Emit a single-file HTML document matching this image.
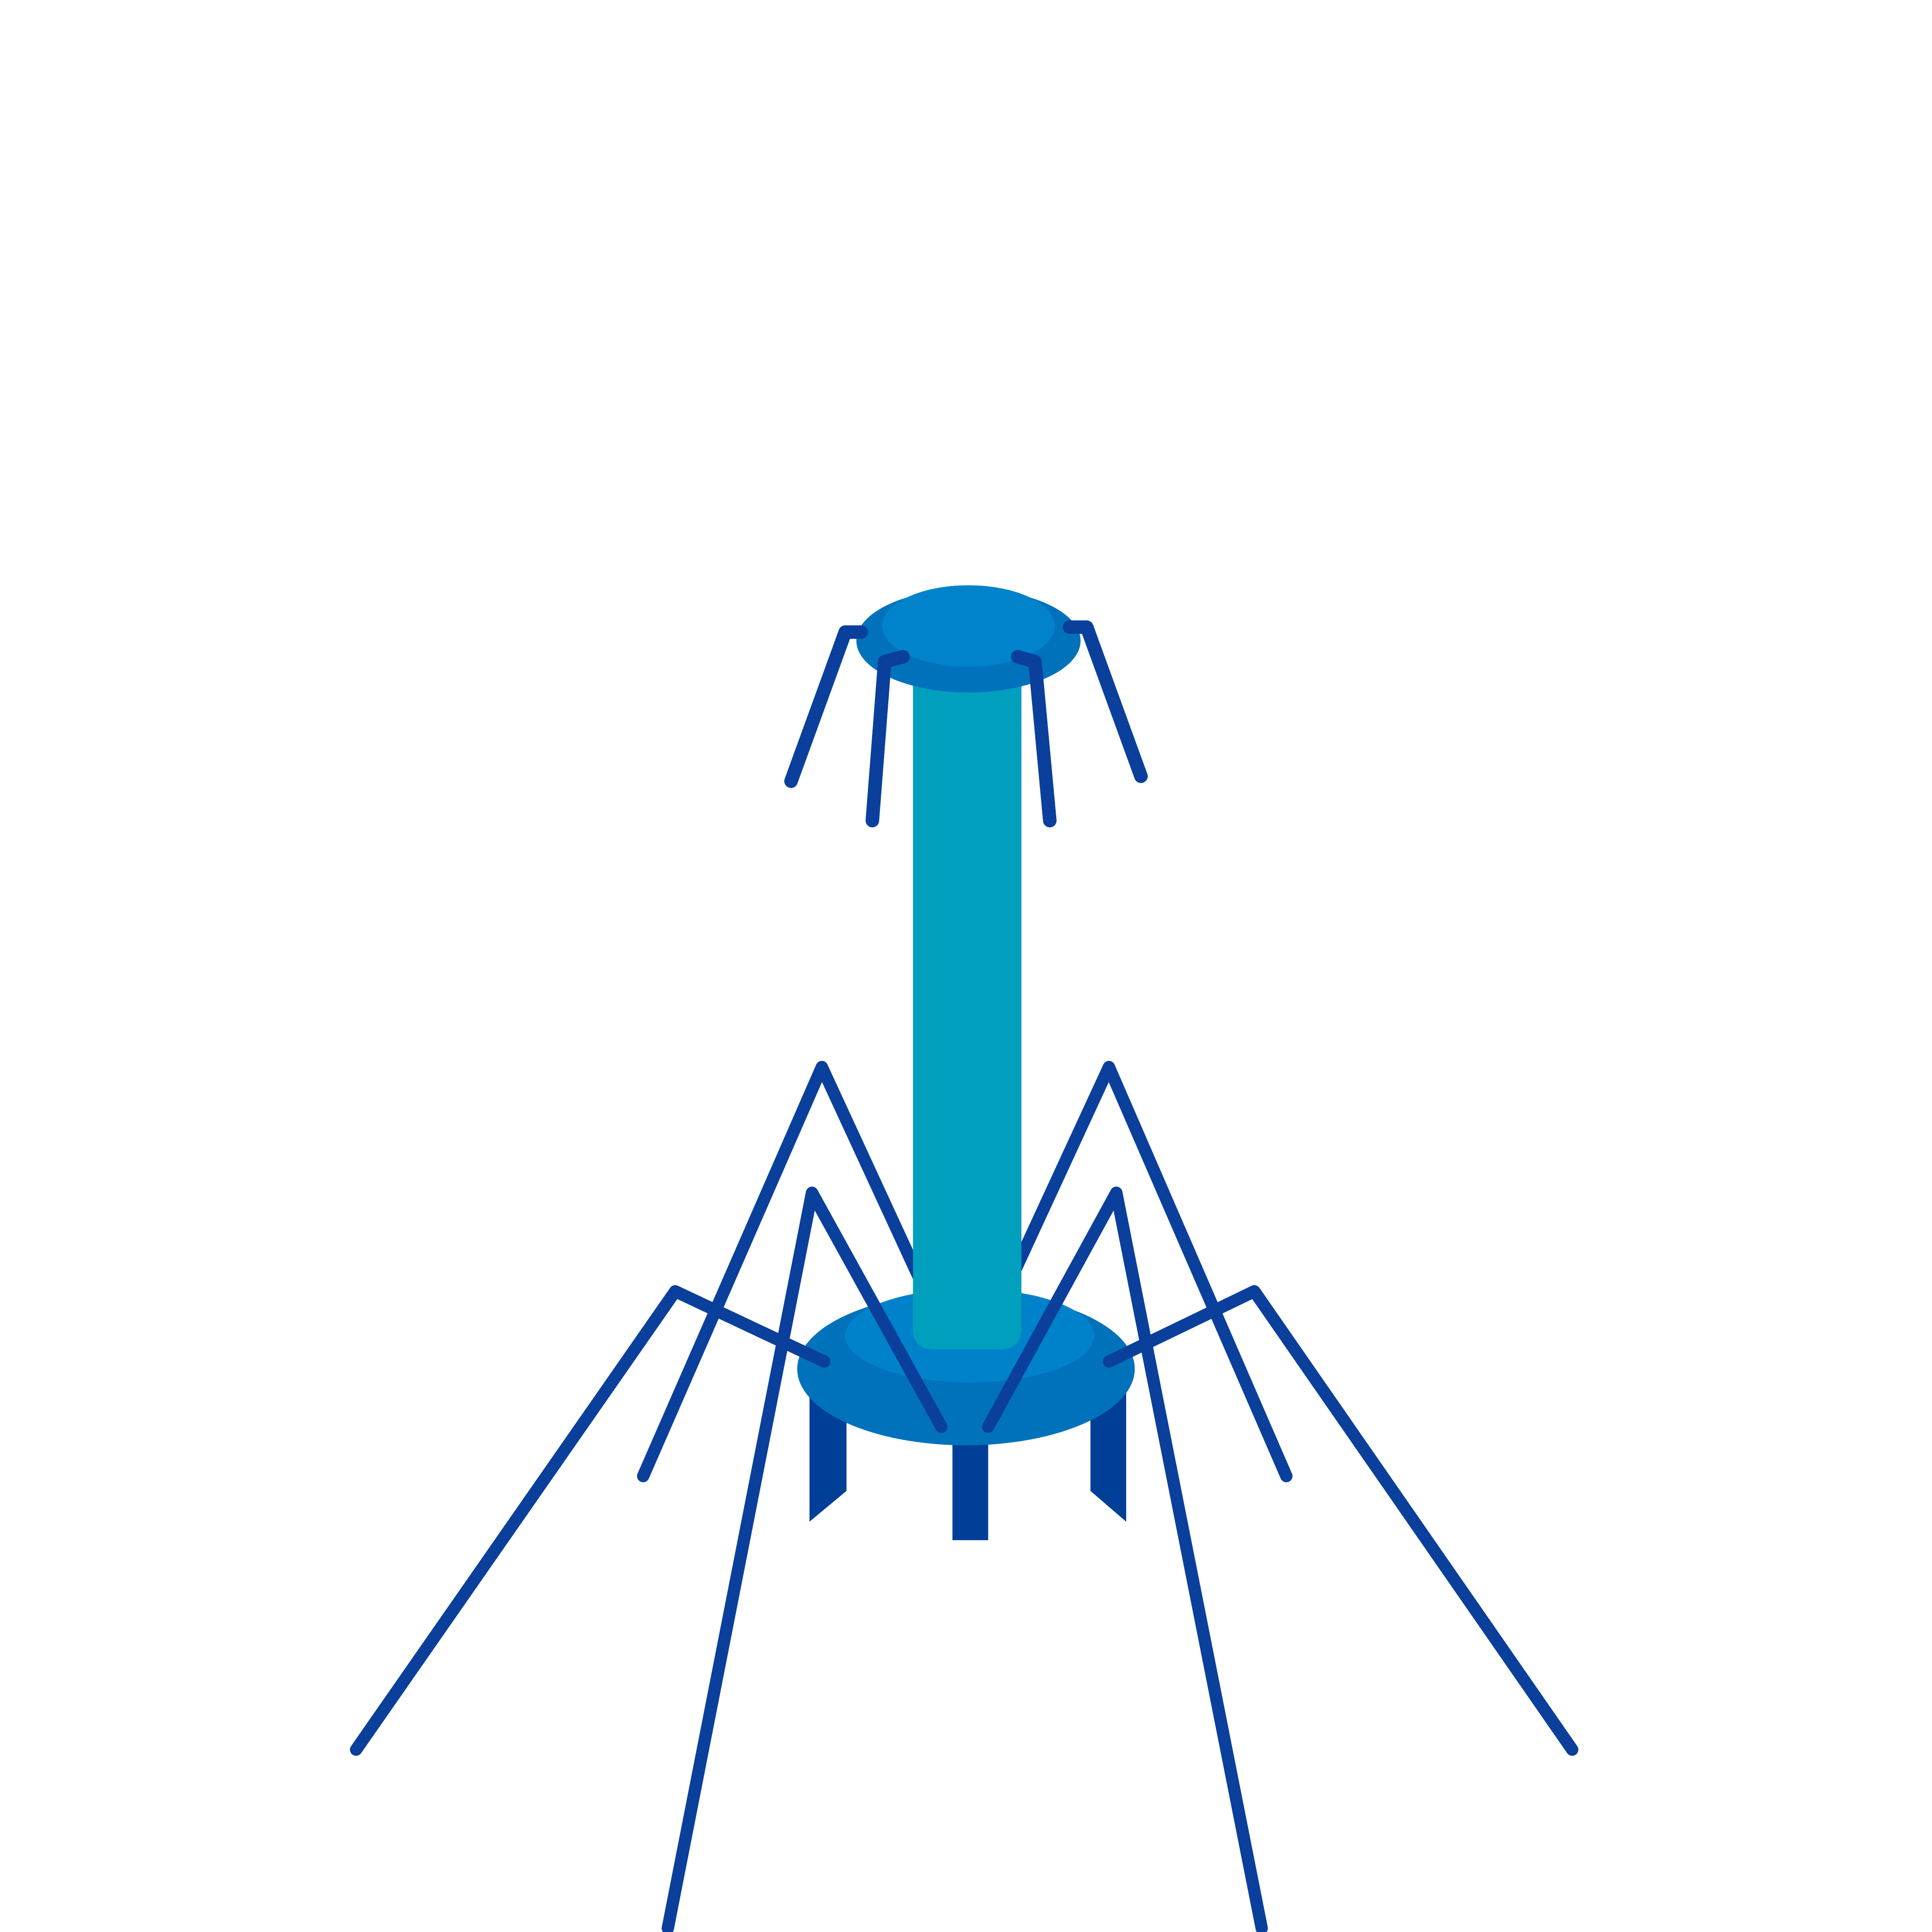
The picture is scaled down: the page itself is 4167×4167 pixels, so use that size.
<!DOCTYPE html>
<html><head><meta charset="utf-8"><style>html,body{margin:0;padding:0;background:#fff}svg{display:block}</style></head>
<body>
<svg width="4167" height="4167" viewBox="0 0 1568 1568" xmlns="http://www.w3.org/2000/svg">
<rect width="1568" height="1568" fill="#fff"/>
<g fill="none" stroke="#0a409c" stroke-width="10" stroke-linecap="round" stroke-linejoin="round">
  <polyline points="522,1198 667,866 745,1035"/>
  <polyline points="1044,1198 900,866 822,1035"/>
</g>
<g fill="#003f98">
  <polygon points="657,1125 687,1125 687,1210 657,1235"/>
  <rect x="773" y="1160" width="29" height="90"/>
  <polygon points="885,1125 914,1125 914,1235 885,1210"/>
</g>
<ellipse cx="784" cy="1111" rx="137" ry="62" fill="#0072bb"/>
<ellipse cx="787" cy="1084" rx="101" ry="38" fill="#0082ca"/>
<path d="M741,530 H829 V1078 Q829,1095 812,1095 H758 Q741,1095 741,1078 Z" fill="#009fbe"/>
<ellipse cx="786" cy="520" rx="91" ry="42" fill="#0072bb"/>
<ellipse cx="786" cy="508" rx="70" ry="33" fill="#0083cb"/>
<g fill="none" stroke="#0a409c" stroke-width="11" stroke-linecap="round" stroke-linejoin="round">
  <polyline points="699,513 686,513 642,634"/>
  <polyline points="733,533 718,537 708,666"/>
  <polyline points="868,509 882,509 926,630"/>
  <polyline points="826,533 840,537 852,666"/>
</g>
<g fill="none" stroke="#0a409c" stroke-width="10" stroke-linecap="round" stroke-linejoin="round">
  <polyline points="289,1420 548,1048 669,1105"/>
  <polyline points="1276,1420 1018,1048 900,1105"/>
  <polyline points="542,1565 659,968 764,1158"/>
  <polyline points="1024,1565 906,968 802,1158"/>
</g>
</svg>
</body></html>
